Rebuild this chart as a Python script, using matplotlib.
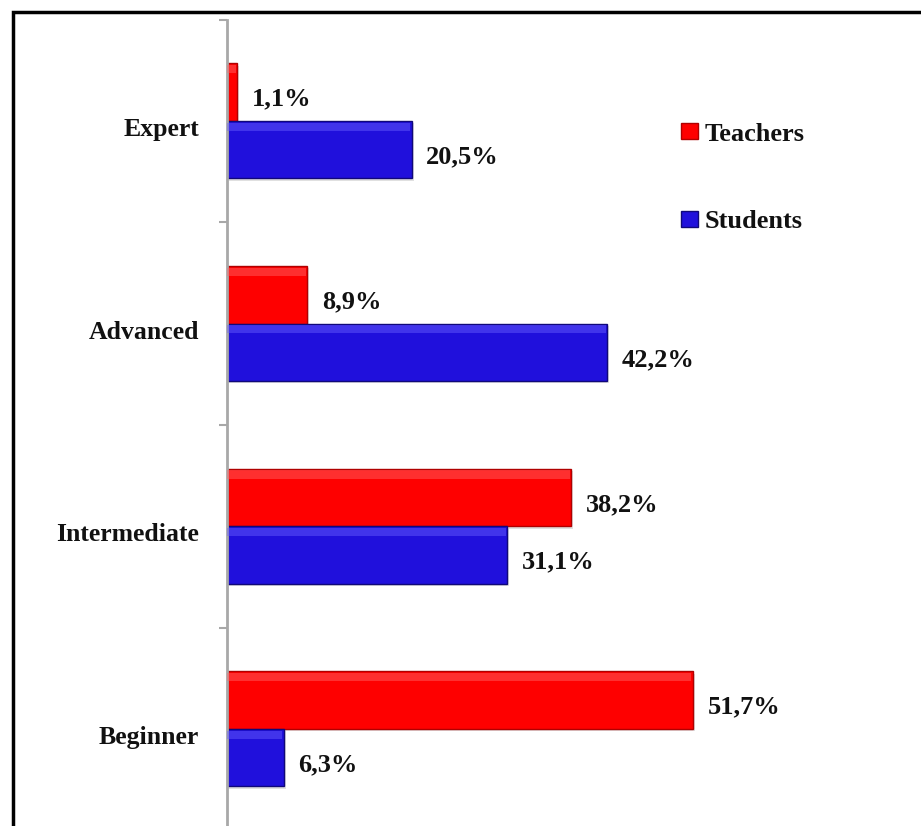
import matplotlib.pyplot as plt
import matplotlib.patches as mpatches
import matplotlib.transforms as mtransforms
import numpy as np

levels = ["Beginner", "Intermediate", "Advanced", "Expert"]
teachers = [51.7, 38.2, 8.9, 1.1]
students = [6.3, 31.1, 42.2, 20.5]
series_names = ["Teachers", "Students"]

RED = "#fe0000"
BLUE = "#2010dc"
RED_EDGE = "#b00000"
BLUE_EDGE = "#10087a"
RED_HI = "#ff6a6a"
BLUE_HI = "#6a62ff"

plt.rcParams["font.family"] = ["Liberation Serif", "DejaVu Serif"]
plt.rcParams["font.weight"] = "bold"

W, H = 921, 826
fig = plt.figure(figsize=(W / 100, H / 100), dpi=100)

# axes spans four ~203px bands from the top tick downward; it runs a little past the bottom edge
band = 202.7
left_px, top_px, right_px = 227, 19.5, 912
bottom_px = top_px + 4 * band
ax = fig.add_axes([left_px / W, (H - bottom_px) / H,
                   (right_px - left_px) / W, (bottom_px - top_px) / H])

y = np.arange(len(levels))
h = 57.5 / band


def draw_bars(vals, offset, face, edge, hi):
    # drop shadow, main bar, then a lighter strip along the top edge
    ax.barh(y + offset - 0.012, vals, height=h, left=0.25, color="#000000",
            alpha=0.12, linewidth=0, zorder=1)
    ax.barh(y + offset, vals, height=h, color=face, edgecolor=edge,
            linewidth=1.0, zorder=2)
    ax.barh(y + offset + h * 0.40, np.array(vals) - 0.15, height=h * 0.14,
            color=hi, alpha=0.45, linewidth=0, zorder=3)


draw_bars(teachers, h / 2, RED, RED_EDGE, RED_HI)
draw_bars(students, -h / 2, BLUE, BLUE_EDGE, BLUE_HI)

for vals, offset in ((teachers, h / 2), (students, -h / 2)):
    for yi, v in zip(y, vals):
        ax.annotate(f"{v:.1f}%".replace(".", ","), xy=(v, yi + offset),
                    xytext=(10.5, -9.8), textcoords="offset points",
                    ha="left", va="baseline", fontsize=19, fontweight="bold",
                    color="#111111")

ax.set_xlim(0, (right_px - left_px) / 9.01)
ax.set_ylim(-0.5, 3.5)

for s in ("top", "right", "bottom"):
    ax.spines[s].set_visible(False)
ax.spines["left"].set_color("#a8a8a8")
ax.spines["left"].set_linewidth(2)

ax.set_xticks([])
ax.set_yticks(y)
ax.set_yticklabels(levels, fontsize=18.5, fontweight="bold", color="#111111")
ax.tick_params(axis="y", which="major", length=0, pad=20)
ax.set_yticks(np.arange(-0.5, 4.0, 1.0), minor=True)
ax.tick_params(axis="y", which="minor", length=6, width=1.5, color="#a8a8a8")

# category names sit slightly below the middle of their bar pair
shift = mtransforms.ScaledTranslation(0, -6 / 100, fig.dpi_scale_trans)
for lbl in ax.get_yticklabels():
    lbl.set_transform(lbl.get_transform() + shift)

handles = [mpatches.Patch(facecolor=RED, edgecolor=RED_EDGE, label=series_names[0]),
           mpatches.Patch(facecolor=BLUE, edgecolor=BLUE_EDGE, label=series_names[1])]
leg = fig.legend(handles=handles, loc="upper left",
                 bbox_to_anchor=(670 / W, 1 - 112 / H), frameon=False,
                 prop={"family": "Liberation Serif", "weight": "bold", "size": 19},
                 handlelength=0.65, handleheight=0.55, handletextpad=0.25,
                 labelspacing=2.45, borderaxespad=0)
for t in leg.get_texts():
    t.set_color("#111111")

# black frame along the top and left edges
frame = mpatches.Rectangle((13 / W, -0.1), 1.2, 1.1 - 12 / H, transform=fig.transFigure,
                           fill=False, edgecolor="black", linewidth=2.5, clip_on=False)
fig.patches.append(frame)

fig.savefig("out.png", dpi=100)
